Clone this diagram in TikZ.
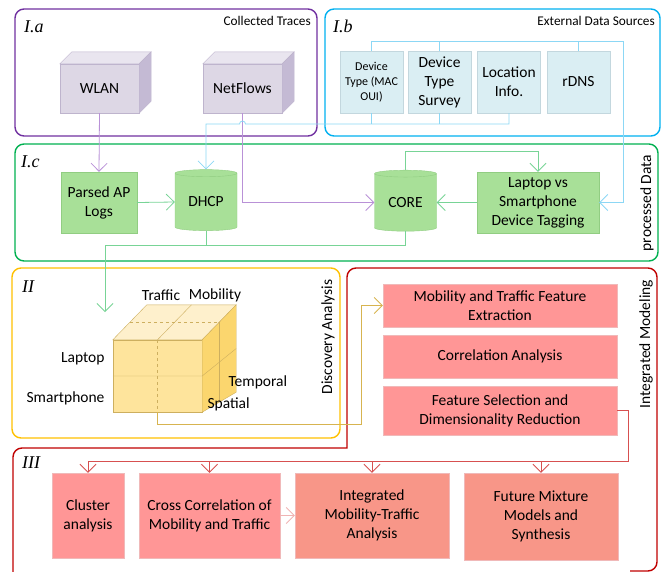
\documentclass[tikz,border=0pt]{standalone}
\usepackage{fontspec}
\setmainfont{Carlito}
\newfontfamily\partfont{Liberation Serif}
\usetikzlibrary{arrows.meta,shapes.geometric}

\definecolor{tracec}{RGB}{112,48,160}
\definecolor{traceln}{RGB}{185,145,215}
\definecolor{tracefront}{RGB}{221,215,229}
\definecolor{tracetop}{RGB}{233,229,239}
\definecolor{traceside}{RGB}{196,186,212}
\definecolor{traceedge}{RGB}{190,180,205}
\definecolor{extc}{RGB}{0,176,240}
\definecolor{extln}{RGB}{140,215,245}
\definecolor{extfill}{RGB}{218,238,243}
\definecolor{extedge}{RGB}{195,215,222}
\definecolor{procc}{RGB}{0,176,80}
\definecolor{procln}{RGB}{120,212,150}
\definecolor{procfill}{RGB}{168,224,152}
\definecolor{procedge}{RGB}{145,205,130}
\definecolor{discc}{RGB}{255,192,0}
\definecolor{discln}{RGB}{215,180,80}
\definecolor{cubefront}{RGB}{254,228,156}
\definecolor{cubetop}{RGB}{254,240,204}
\definecolor{cubeside}{RGB}{251,214,110}
\definecolor{cubeedge}{RGB}{205,175,95}
\definecolor{modc}{RGB}{192,0,0}
\definecolor{modln}{RGB}{215,80,80}
\definecolor{modpale}{RGB}{240,180,180}
\definecolor{modfill}{RGB}{255,150,150}
\definecolor{modedge}{RGB}{240,185,185}
\definecolor{synfill}{RGB}{248,150,136}

\tikzset{
  frame/.style={line width=1.4pt, rounded corners=9pt},
  partlabel/.style={anchor=west, inner sep=0pt, font=\partfont\itshape\fontsize{18}{18}\selectfont},
  titletext/.style={anchor=east, inner sep=0pt, font=\fontsize{13.3}{15}\selectfont},
  sidetext/.style={rotate=90, inner sep=0pt, font=\fontsize{15.5}{17}\selectfont},
  tracebox/.style={fill=tracefront, draw=traceedge, minimum width=79pt, minimum height=49pt, inner sep=0pt},
  extbox/.style={fill=extfill, draw=extedge, minimum width=63pt, minimum height=62pt, inner sep=1pt, align=center},
  procbox/.style={fill=procfill, draw=procedge, minimum height=61pt, inner sep=1pt, align=center},
  dbcyl/.style={cylinder, shape border rotate=90, aspect=0.2, draw=procedge, fill=procfill,
    minimum width=62pt, minimum height=61pt, inner sep=0pt},
  modbox/.style={fill=modfill, draw=modedge, inner sep=1pt, align=center},
  synbox/.style={fill=synfill, draw=modedge, inner sep=1pt, align=center},
  barb/.style={-{Straight Barb[length=8pt,width=16pt]}},
  traceconn/.style={barb, draw=traceln, line width=0.8pt},
  extconn/.style={barb, draw=extln, line width=0.8pt},
  extline/.style={draw=extln, line width=0.8pt},
  procconn/.style={barb, draw=procln, line width=0.8pt},
  procline/.style={draw=procln, line width=0.8pt},
  discconn/.style={barb, draw=discln, line width=0.8pt},
  modconn/.style={barb, draw=modln, line width=0.8pt},
}

\begin{document}
\begin{tikzpicture}[x=1pt, y=-1pt, font=\fontsize{15.5}{19}\selectfont]
  \useasboundingbox (0,0) rectangle (662,571);

  % frames
  \draw[frame, draw=tracec] (15,9) rectangle (317,136);
  \draw[frame, draw=extc] (325,9) rectangle (660,136);
  \draw[frame, draw=procc] (15,144) rectangle (658,261);
  \draw[frame, draw=discc] (12,268) rectangle (340,438);
  \draw[frame, draw=modc] (13,575) -- (13,448) [sharp corners] -- (347,448)
    [rounded corners=9pt] -- (347,268) -- (657,268) -- (657,571) -- (630,571);

  \node[partlabel] (ia) at (24,27) {I.a};
  \node[partlabel] (ib) at (333,26) {I.b};
  \node[partlabel] (ic) at (21,162) {I.c};
  \node[partlabel] (ii) at (22,287) {II};
  \node[partlabel] (iii) at (22,463) {III};

  \node[titletext] (tracetitle) at (311,21) {Collected Traces};
  \node[titletext] (exttitle) at (655,21) {External Data Sources};
  \node[sidetext] (proctitle) at (647,203) {processed Data};
  \node[sidetext] (disctitle) at (328,337) {Discovery Analysis};
  \node[sidetext] (modtitle) at (646,344) {Integrated Modeling};

  % collected traces
  \node[tracebox] (wlan) at (99.5,88.5) {WLAN};
  \node[tracebox] (netflows) at (242.5,88.5) {NetFlows};
  \filldraw[fill=tracetop, draw=traceedge] (wlan.north west) -- ++(12,-12) -- ([shift={(12,-12)}]wlan.north east) -- (wlan.north east) -- cycle;
  \filldraw[fill=traceside, draw=traceedge] (wlan.north east) -- ++(12,-12) -- ([shift={(12,-12)}]wlan.south east) -- (wlan.south east) -- cycle;
  \filldraw[fill=tracetop, draw=traceedge] (netflows.north west) -- ++(12,-12) -- ([shift={(12,-12)}]netflows.north east) -- (netflows.north east) -- cycle;
  \filldraw[fill=traceside, draw=traceedge] (netflows.north east) -- ++(12,-12) -- ([shift={(12,-12)}]netflows.south east) -- (netflows.south east) -- cycle;

  % external sources
  \node[extbox, font=\fontsize{12}{15}\selectfont] (oui) at (371.5,82) {Device\\Type (MAC\\OUI)};
  \node[extbox] (survey) at (439.5,82) {Device\\Type\\Survey};
  \node[extbox] (locinfo) at (509,82) {Location\\Info.};
  \node[extbox] (rdns) at (578.5,82) {rDNS};

  % processed data
  \node[procbox, minimum width=76pt] (parsed) at (99,202.5) {Parsed AP\\Logs};
  \node[dbcyl] (dhcp) at (206,202) {DHCP};
  \node[dbcyl] (core) at (405.5,202.5) {CORE};
  \node[procbox, minimum width=122pt] (tagging) at (538,202.5) {Laptop vs\\Smartphone\\Device Tagging};

  % cube
  \node[fill=cubefront, draw=cubeedge, minimum width=89pt, minimum height=72pt, inner sep=0pt] (cube) at (157.5,376) {};
  \filldraw[fill=cubetop, draw=cubeedge] (cube.north west) -- ++(34,-35) -- ([shift={(34,-35)}]cube.north east) -- (cube.north east) -- cycle;
  \filldraw[fill=cubeside, draw=cubeedge] (cube.north east) -- ++(34,-35) -- ([shift={(34,-20)}]cube.south east) -- (cube.south east) -- cycle;
  \draw[cubeedge] (cube.west) -- (cube.east) -- ++(34,-27.5);
  \draw[cubeedge] (cube.north) -- ++(34,-35);
  \draw[cubeedge, dashed] (cube.north) -- (cube.south);
  \draw[cubeedge, dashed] ([shift={(17,-17.5)}]cube.north west) -- ([shift={(17,-17.5)}]cube.north east);
  \draw[cubeedge] ([shift={(17,-17.5)}]cube.north east) -- ([shift={(17,-10)}]cube.south east);

  \node (traffic) at (161,295) {Traffic};
  \node (mobility) at (215,295) {Mobility};
  \node[anchor=east] (laptop) at (108,359) {Laptop};
  \node[anchor=east] (smartphone) at (108,398) {Smartphone};
  \node[anchor=west] (temporal) at (225,382) {Temporal};
  \node[anchor=west] (spatial) at (204,404) {Spatial};

  % integrated modeling
  \node[modbox, minimum width=234pt, minimum height=43pt] (extract) at (500,305.5) {Mobility and Traffic Feature\\Extraction};
  \node[modbox, minimum width=234pt, minimum height=43pt] (corr) at (500,356.5) {Correlation Analysis};
  \node[modbox, minimum width=234pt, minimum height=49pt] (fsel) at (500,410.5) {Feature Selection and\\Dimensionality Reduction};

  \node[modbox, minimum width=72pt, minimum height=85pt] (cluster) at (88,515.5) {Cluster\\analysis};
  \node[modbox, minimum width=141pt, minimum height=85pt] (crosscorr) at (209.5,515.5) {Cross Correlation of\\Mobility and Traffic};
  \node[synbox, minimum width=154pt, minimum height=85pt] (intmob) at (372,515.5) {Integrated\\Mobility-Traffic\\Analysis};
  \node[synbox, minimum width=154pt, minimum height=87pt] (future) at (541,516.5) {Future Mixture\\Models and\\Synthesis};

  % connectors
  \draw[traceconn] (wlan.south) -- (parsed.north);
  \draw[traceconn] (netflows.south) |- (core.west);

  \coordinate (extrail) at (623,41);
  \coordinate (hop) at (242.5,124);
  \draw[extconn] (oui.north) |- (extrail) |- (tagging.east);
  \draw[extline] (survey.north) -- (survey.north |- extrail);
  \draw[extline] (rdns.north) -- (rdns.north |- extrail);
  \draw[extconn] (locinfo.south) |- ([xshift=3pt]hop) arc[start angle=0, end angle=180, radius=3pt] -| (dhcp.north);
  \draw[extline] (oui.south) -- (oui.south |- hop);
  \draw[extline] (survey.south) -- (survey.south |- hop);

  \coordinate (procrail) at (405.5,245);
  \coordinate (cubein) at (105,312);
  \draw[procconn] (parsed.east) -- (dhcp.west);
  \draw[procconn] (tagging.west) -- (core.east);
  \draw[procconn] (core.north) -- ++(0,-19) -| (tagging.north);
  \draw[procconn] (core.south) -- (procrail) -| (cubein);
  \draw[procline] (dhcp.south) -- (dhcp.south |- procrail);

  \draw[discconn] (cube.south) -- ++(0,12) -| ([xshift=-21pt]extract.west) -- (extract.west);

  \draw[modconn] (fsel.east) -- ++(11,0) |- ([yshift=11pt]cluster.north) -- (cluster.north);
  \draw[modconn] ([yshift=11pt]crosscorr.north) -- (crosscorr.north);
  \draw[modconn] ([yshift=11pt]intmob.north) -- (intmob.north);
  \draw[modconn] ([yshift=11pt]future.north) -- (future.north);
  \draw[modconn, draw=modpale] (crosscorr.east) -- (intmob.west);

\end{tikzpicture}
\end{document}
